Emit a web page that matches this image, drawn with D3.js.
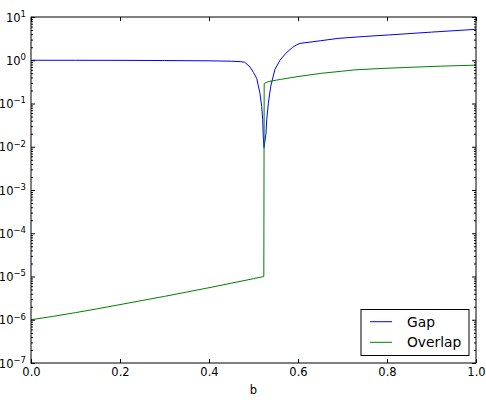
<!DOCTYPE html>
<html lang="en">
<head>
<meta charset="UTF-8">
<title>Gap / Overlap</title>
<script src="https://d3js.org/d3.v7.min.js"></script>
<style>
    body { margin: 0; background: #fff; }
    svg { font-family: "DejaVu Sans", sans-serif; }
</style>
</head>
<body>
<div id="chart"></div>
<script>
    // values
    const gapB = [0, 0.1, 0.2, 0.3, 0.4, 0.45, 0.47, 0.48, 0.4921, 0.5, 0.5072, 0.5146, 0.5184,
        0.5207, 0.522, 0.5236, 0.528, 0.5297, 0.5333, 0.5387, 0.5483, 0.5596, 0.5727, 0.588,
        0.596, 0.6045, 0.65, 0.69, 0.75, 0.803, 0.9, 1.0];
    const gapV = [1.0, 0.998, 0.995, 0.985, 0.97, 0.95, 0.93, 0.9, 0.7, 0.52, 0.38, 0.17, 0.085,
        0.042, 0.017, 0.0095, 0.02, 0.042, 0.1, 0.25, 0.62, 1.0, 1.45, 2.0,
        2.25, 2.45, 2.82, 3.2, 3.55, 3.84, 4.47, 5.19];

    const overlapB = [0, 0.05, 0.1, 0.15, 0.2, 0.25, 0.3, 0.35, 0.4, 0.45, 0.5, 0.521, 0.5232,
        0.524, 0.533, 0.56, 0.6, 0.653, 0.7, 0.728, 0.78, 0.84, 0.92, 1.0];
    const overlapV = [1e-6, 1.2e-6, 1.46e-6, 1.8e-6, 2.24e-6, 2.79e-6, 3.47e-6, 4.37e-6, 5.5e-6,
        7.0e-6, 8.9e-6, 9.9e-6, 1.0e-5,
        0.29, 0.32, 0.36, 0.42, 0.5, 0.56, 0.6, 0.64, 0.68, 0.73, 0.77];

    const xTicks = [0, 0.2, 0.4, 0.6, 0.8, 1.0];
    const yExps = [-7, -6, -5, -4, -3, -2, -1, 0, 1];

    const width = 486, height = 400;
    const margin = { top: 17, right: 10, bottom: 37, left: 31 };

    const svg = d3.select('#chart').append('svg')
        .attr('width', width)
        .attr('height', height);

    const x = d3.scaleLinear().domain([0, 1]).range([margin.left, width - margin.right]);
    const y = d3.scaleLog().domain([1e-7, 10]).range([height - margin.bottom, margin.top]);

    const majors = yExps.map(e => Math.pow(10, e));
    const minors = [];
    yExps.slice(0, -1).forEach(e => {
        for (let m = 2; m <= 9; m++) minors.push(m * Math.pow(10, e));
    });

    svg.append('clipPath').attr('id', 'clip')
        .append('rect')
        .attr('x', x(0)).attr('y', y(10))
        .attr('width', x(1) - x(0)).attr('height', y(1e-7) - y(10));

    const line = d3.line().x(d => x(d[0])).y(d => y(d[1]));

    const plot = svg.append('g').attr('clip-path', 'url(#clip)');
    plot.append('path')
        .datum(gapB.map((b, i) => [b, gapV[i]]))
        .attr('fill', 'none').attr('stroke', '#0000ff').attr('stroke-width', 1)
        .attr('d', line);
    plot.append('path')
        .datum(overlapB.map((b, i) => [b, overlapV[i]]))
        .attr('fill', 'none').attr('stroke', '#008000').attr('stroke-width', 1)
        .attr('d', line);

    // x axes (ticks point inward)
    svg.append('g')
        .attr('transform', `translate(0,${y(1e-7)})`)
        .call(d3.axisBottom(x).tickValues(xTicks).tickSize(-4).tickPadding(5).tickFormat(d3.format('.1f')));
    svg.append('g')
        .attr('transform', `translate(0,${y(10)})`)
        .call(d3.axisTop(x).tickValues(xTicks).tickSize(-4).tickFormat(''));

    // y axes, majors and minors on both sides
    const yl = svg.append('g')
        .attr('transform', `translate(${x(0)},0)`)
        .call(d3.axisLeft(y).tickValues(majors).tickSize(-4).tickPadding(5).tickFormat(''));
    svg.append('g')
        .attr('transform', `translate(${x(0)},0)`)
        .call(d3.axisLeft(y).tickValues(minors).tickSize(-2).tickFormat(''));
    svg.append('g')
        .attr('transform', `translate(${x(1)},0)`)
        .call(d3.axisRight(y).tickValues(majors).tickSize(-4).tickFormat(''));
    svg.append('g')
        .attr('transform', `translate(${x(1)},0)`)
        .call(d3.axisRight(y).tickValues(minors).tickSize(-2).tickFormat(''));

    svg.selectAll('.domain').remove();
    svg.selectAll('.tick line').attr('stroke', '#000');
    svg.selectAll('.tick text').attr('fill', '#000').attr('font-family', 'DejaVu Sans').attr('font-size', 11.5);

    // 10^n labels
    yl.selectAll('.tick text').each(function (d) {
        const t = d3.select(this);
        const e = Math.round(Math.log10(d));
        t.text(null).attr('dy', '0.35em');
        t.append('tspan').text('10');
        t.append('tspan').attr('font-size', 8.5).attr('dy', '-0.55em')
            .text(e < 0 ? '\u2212' + (-e) : String(e));
    });

    // frame
    svg.append('rect')
        .attr('x', x(0)).attr('y', y(10))
        .attr('width', x(1) - x(0)).attr('height', y(1e-7) - y(10))
        .attr('fill', 'none').attr('stroke', '#000').attr('stroke-width', 1);

    svg.append('text')
        .attr('x', (x(0) + x(1)) / 2).attr('y', 394)
        .attr('text-anchor', 'middle').attr('font-size', 11.5)
        .text('b');

    // legend
    const legendNames = ['Gap', 'Overlap'];
    const legendColors = ['#0000ff', '#008000'];
    const lg = svg.append('g');
    lg.append('rect')
        .attr('x', 361).attr('y', 309.5).attr('width', 108).attr('height', 46)
        .attr('fill', '#fff').attr('stroke', '#000').attr('stroke-width', 1);
    legendNames.forEach((name, i) => {
        const ly = 321.7 + i * 20.6;
        lg.append('line')
            .attr('x1', 370).attr('x2', 392).attr('y1', ly).attr('y2', ly)
            .attr('stroke', legendColors[i]).attr('stroke-width', 1);
        lg.append('text')
            .attr('x', 407).attr('y', ly).attr('dy', '0.35em')
            .attr('font-size', 13.8)
            .text(name);
    });
</script>
</body>
</html>
